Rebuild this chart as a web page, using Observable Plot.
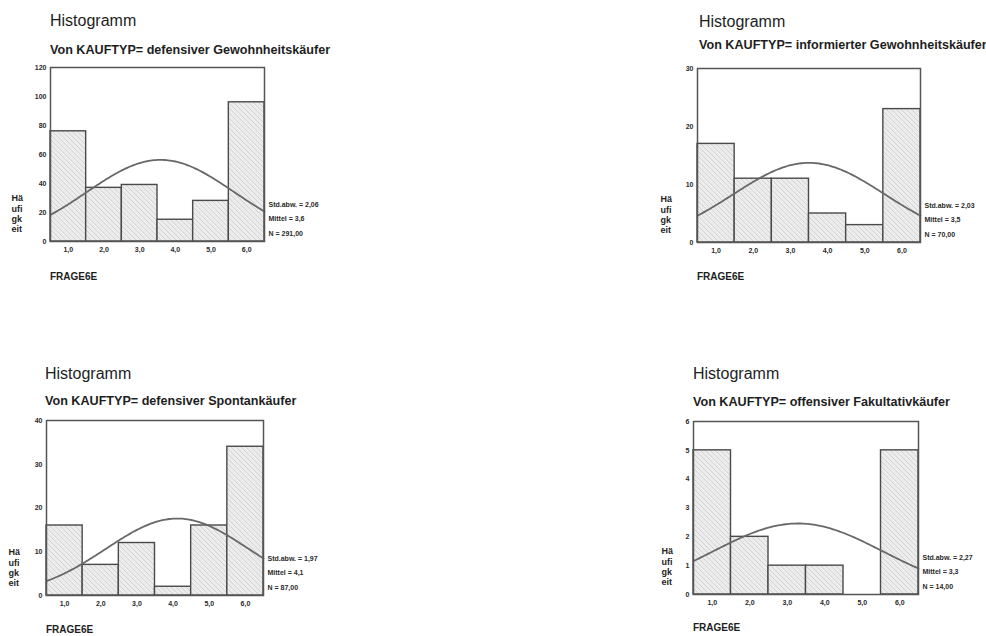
<!DOCTYPE html>
<html>
<head>
<meta charset="utf-8">
<script src="https://cdn.jsdelivr.net/npm/d3@7"></script>
<script src="https://cdn.jsdelivr.net/npm/@observablehq/plot@0.6"></script>
<style>
  body { margin: 0; background: #fff; }
  #page { position: relative; width: 986px; height: 636px; overflow: hidden; background: #fff;
          font-family: "Liberation Sans", Arial, sans-serif; color: #1e1e1e; }
  .t { position: absolute; white-space: nowrap; line-height: 1; }
  .h { font-size: 16px; }
  .s { font-size: 12.6px; font-weight: bold; }
  .f { font-size: 10px; font-weight: bold; }
  .pl { position: absolute; }
</style>
</head>
<body>
<div id="page">
  <svg width="0" height="0" style="position:absolute">
    <defs>
      <pattern id="raster" patternUnits="userSpaceOnUse" width="5" height="5">
        <rect width="5" height="5" fill="#ececec"></rect>
        <path d="M0,0L5,5M-1,4L1,6M4,-1L6,1" stroke="#c8c8c8" stroke-width="0.7"></path>
      </pattern>
    </defs>
  </svg>
</div>
<script>
// Answer categories of question 6e (bins 1..6) and their axis labels
const bins = [1, 2, 3, 4, 5, 6];
const tickLabels = ["1,0", "2,0", "3,0", "4,0", "5,0", "6,0"];

// Purchase types (KAUFTYP)
const groups = [
  "defensiver Gewohnheitskäufer",
  "informierter Gewohnheitskäufer",
  "defensiver Spontankäufer",
  "offensiver Fakultativkäufer"
];

// Frequencies per answer category, one array per purchase type
const countsDefGewohnheit = [76, 37, 39, 15, 28, 96];
const countsInfGewohnheit = [17, 11, 11, 5, 3, 23];
const countsDefSpontan = [16, 7, 12, 2, 16, 34];
const countsOffFakultativ = [5, 2, 1, 1, 0, 5];

// Y axis extents and tick steps
const yMax = [120, 30, 40, 6];
const yStep = [20, 10, 10, 1];

const counts = [countsDefGewohnheit, countsInfGewohnheit, countsDefSpontan, countsOffFakultativ];

// Page layout: plot frame box and text anchors for each panel
const layout = [
  {fx: 50,  fy: 67,  fw: 214, fh: 174, tx: 50,  hB: 27,  sB: 55,  fB: 280, labDx: -39},
  {fx: 697, fy: 68,  fw: 223, fh: 174, tx: 699, hB: 28,  sB: 50,  fB: 280, labDx: -37},
  {fx: 46,  fy: 420, fw: 217, fh: 175, tx: 45,  hB: 380, sB: 406, fB: 633, labDx: -38},
  {fx: 693, fy: 421, fw: 225, fh: 173, tx: 693, hB: 380, sB: 407, fB: 631, labDx: -32}
];

const page = document.getElementById("page");
const de = (v, n) => v.toFixed(n).replace(".", ",");

function addText(str, cls, x, baseline, size) {
  const d = document.createElement("div");
  d.className = "t " + cls;
  d.textContent = str;
  d.style.left = x + "px";
  d.style.top = (baseline - 0.85 * size) + "px";
  page.appendChild(d);
}

const ml = 50, mr = 70, mt = 8, mb = 20;

groups.forEach((g, i) => {
  const L = layout[i];
  const rows = bins.map((b, j) => ({bin: b, count: counts[i][j]}));

  // Descriptive statistics of the distribution
  const n = d3.sum(rows, (r) => r.count);
  const mean = d3.sum(rows, (r) => r.count * r.bin) / n;
  const sd = Math.sqrt(d3.sum(rows, (r) => r.count * (r.bin - mean) ** 2) / (n - 1));

  // Fitted normal curve scaled to counts (bin width 1)
  const curve = d3.range(0.5, 6.5001, 0.05).map((x) => ({
    x,
    y: n / (sd * Math.sqrt(2 * Math.PI)) * Math.exp(-0.5 * ((x - mean) / sd) ** 2)
  }));

  addText("Histogramm", "h", L.tx, L.hB, 16);
  addText("Von KAUFTYP= " + g, "s", L.tx, L.sB, 12.6);
  addText("FRAGE6E", "f", L.fx, L.fB, 10);

  const chart = Plot.plot({
    width: L.fw + ml + mr,
    height: L.fh + mt + mb,
    marginLeft: ml, marginRight: mr, marginTop: mt, marginBottom: mb,
    style: {fontFamily: "'Liberation Sans', Arial, sans-serif", fontWeight: "bold", fontSize: "7px",
            color: "#2a2a2a", background: "transparent", overflow: "visible"},
    x: {domain: [0.5, 6.5], ticks: bins, tickFormat: (d) => tickLabels[d - 1], tickSize: 0, tickPadding: 6, label: null},
    y: {domain: [0, yMax[i]], ticks: d3.range(0, yMax[i] + yStep[i] / 2, yStep[i]),
        tickFormat: (d) => String(Math.round(d)), tickSize: 0, tickPadding: 4, label: null},
    marks: [
      Plot.rect(rows.filter((r) => r.count > 0), {
        x1: (r) => r.bin - 0.5, x2: (r) => r.bin + 0.5, y1: 0, y2: "count",
        fill: "url(#raster)", stroke: "#4a4a4a", strokeWidth: 1.4
      }),
      Plot.line(curve, {x: "x", y: "y", stroke: "#686868", strokeWidth: 1.8}),
      Plot.frame({stroke: "#555", strokeWidth: 1.5}),
      Plot.text(["Std.abw. = " + de(sd, 2)], {frameAnchor: "bottom-right", dx: 4, dy: -35, textAnchor: "start", fontSize: 7}),
      Plot.text(["Mittel = " + de(mean, 1)], {frameAnchor: "bottom-right", dx: 4, dy: -21, textAnchor: "start", fontSize: 7}),
      Plot.text(["N = " + de(n, 2)], {frameAnchor: "bottom-right", dx: 4, dy: -6, textAnchor: "start", fontSize: 7}),
      Plot.text(["Hä\nufi\ngk\neit"], {frameAnchor: "bottom-left", dx: L.labDx, dy: -28, textAnchor: "start",
        lineAnchor: "middle", lineHeight: 1.15, fontSize: 9, fill: "#1e1e1e"})
    ]
  });
  chart.classList.add("pl");
  chart.style.left = (L.fx - ml) + "px";
  chart.style.top = (L.fy - mt) + "px";
  page.appendChild(chart);
});
</script>
</body>
</html>
